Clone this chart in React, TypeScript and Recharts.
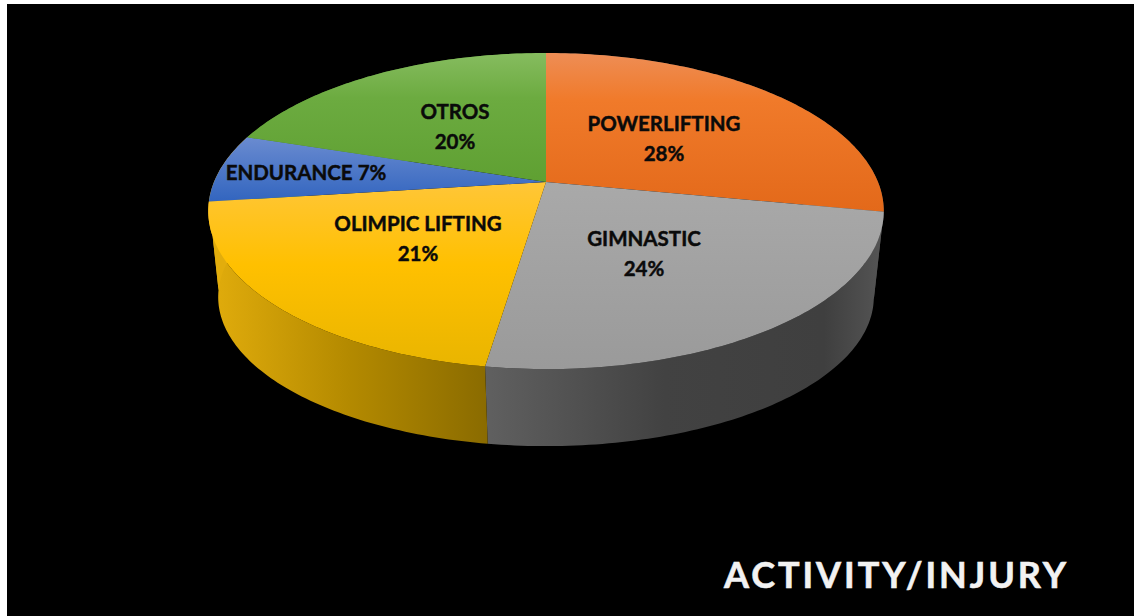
import React from 'react';
import { PieChart, Pie } from 'recharts';

const categories = ['POWERLIFTING', 'GIMNASTIC', 'OLIMPIC LIFTING', 'ENDURANCE', 'OTROS'];
const shares = [28, 24.4, 20.6, 7, 20];

const topIds = ['topOrange', 'topGray', 'topYellow', 'topBlue', 'topGreen'];
const wallIds = ['wallOrange', 'wallGray', 'wallYellow', 'wallBlue', 'wallGreen'];

const data = categories.map((name, i) => ({ name, value: shares[i] }));

const WIDTH = 1134;
const HEIGHT = 616;
const CX = 546;
const CY = 182;
const RADIUS = 332;

// two planes of the tilted disc, top face and bottom face
const TOP_PLANE = { rx: 1, ry: 0.46, dy: 0, p: 0.1837 };
const BOTTOM_PLANE = { rx: 0.973, ry: 0.436, dy: 89.7, p: 0.17 };

type Plane = typeof TOP_PLANE;

// recharts angle (degrees, counter clockwise from 3 o'clock) to a point on the tilted disc
const project = (cx: number, cy: number, r: number, angle: number, plane: Plane, t = 1) => {
  const a = (angle * Math.PI) / 180;
  const u = Math.cos(a) * t;
  const v = -Math.sin(a) * t;
  const w = 1 - plane.p * v;
  return [cx + (r * plane.rx * u) / w, cy + plane.dy + (r * plane.ry * v) / w];
};

const arcPoints = (cx: number, cy: number, r: number, start: number, end: number, plane: Plane) => {
  const steps = Math.max(2, Math.ceil(Math.abs(end - start)));
  const pts: number[][] = [];
  for (let i = 0; i <= steps; i++) {
    pts.push(project(cx, cy, r, start + ((end - start) * i) / steps, plane));
  }
  return pts;
};

const toPath = (pts: number[][]) =>
  pts.map((p, i) => `${i === 0 ? 'M' : 'L'}${p[0].toFixed(2)},${p[1].toFixed(2)}`).join(' ') + ' Z';

const TopSector = (props: any) => {
  const { cx, cy, outerRadius, startAngle, endAngle, index } = props;
  const pts = [[cx, cy], ...arcPoints(cx, cy, outerRadius, startAngle, endAngle, TOP_PLANE)];
  return <path d={toPath(pts)} fill={`url(#${topIds[index]})`} />;
};

const WallSector = (props: any) => {
  const { cx, cy, outerRadius, startAngle, endAngle, index } = props;
  const upper = arcPoints(cx, cy, outerRadius, startAngle, endAngle, TOP_PLANE);
  const lower = arcPoints(cx, cy, outerRadius, startAngle, endAngle, BOTTOM_PLANE).reverse();
  return <path d={toPath([...upper, ...lower])} fill={`url(#${wallIds[index]})`} />;
};

const labelPlaces = [
  { x: 664, y: 131, oneLine: false },
  { x: 644, y: 246, oneLine: false },
  { x: 418, y: 231, oneLine: false },
  { x: 306, y: 180, oneLine: true },
  { x: 455, y: 119, oneLine: false },
];

const renderLabel = (props: any) => {
  const { index, name, percent } = props;
  const place = labelPlaces[index];
  const pct = `${Math.round(percent * 100)}%`;
  const textProps = {
    x: place.x,
    textAnchor: 'middle' as const,
    fill: '#0a0a0a',
    stroke: '#0a0a0a',
    strokeWidth: 0.45,
    fontFamily: 'Lato',
    fontWeight: 700,
    fontSize: 20.5,
  };
  if (place.oneLine) {
    return (
      <text {...textProps} y={place.y}>
        {name} {pct}
      </text>
    );
  }
  return (
    <g>
      <text {...textProps} y={place.y}>{name}</text>
      <text {...textProps} y={place.y + 30}>{pct}</text>
    </g>
  );
};

const vertical = (id: string, stops: [string, string][]) => (
  <linearGradient id={id} x1="0" y1="0" x2="0" y2="1" key={id}>
    {stops.map(([o, c]) => <stop key={o} offset={o} stopColor={c} />)}
  </linearGradient>
);

const horizontal = (id: string, stops: [string, string][]) => (
  <linearGradient id={id} x1="0" y1="0" x2="1" y2="0" key={id}>
    {stops.map(([o, c]) => <stop key={o} offset={o} stopColor={c} />)}
  </linearGradient>
);

export default function App() {
  return (
    <div style={{ position: 'absolute', left: 0, top: 0, width: WIDTH, height: HEIGHT, background: '#fff', overflow: 'hidden' }}>
      <div style={{ position: 'absolute', left: 7, top: 4, right: 0, bottom: 0, background: '#000' }} />
      <div style={{ position: 'absolute', left: 0, top: 0 }}>
        <PieChart width={WIDTH} height={HEIGHT} margin={{ top: 0, right: 0, bottom: 0, left: 0 }}>
          <defs>
            {vertical('topOrange', [['0', '#ee8d55'], ['0.3', '#f07a2a'], ['1', '#e3691a']])}
            {vertical('topGray', [['0', '#a9a9a9'], ['1', '#9a9a9a']])}
            {vertical('topYellow', [['0', '#ffc638'], ['0.45', '#ffc000'], ['1', '#e9b500']])}
            {vertical('topBlue', [['0', '#6a8bd0'], ['1', '#3265bf']])}
            {vertical('topGreen', [['0', '#86bc5f'], ['0.35', '#6cab40'], ['1', '#5fa032']])}
            {horizontal('wallOrange', [['0', '#4a4a4a'], ['1', '#4a4a4a']])}
            {horizontal('wallGray', [['0', '#606060'], ['0.45', '#424242'], ['0.85', '#3f3f3f'], ['1', '#555555']])}
            {horizontal('wallYellow', [['0', '#e2ad0c'], ['0.5', '#b48a00'], ['1', '#8a6b00']])}
            {horizontal('wallBlue', [['0', '#e2ad0c'], ['1', '#e2ad0c']])}
            {horizontal('wallGreen', [['0', '#47782a'], ['1', '#47782a']])}
          </defs>
          <Pie
            data={data}
            dataKey="value"
            nameKey="name"
            cx={CX}
            cy={CY}
            outerRadius={RADIUS}
            startAngle={90}
            endAngle={-270}
            stroke="none"
            shape={WallSector}
            isAnimationActive={false}
          />
          <Pie
            data={data}
            dataKey="value"
            nameKey="name"
            cx={CX}
            cy={CY}
            outerRadius={RADIUS}
            startAngle={90}
            endAngle={-270}
            stroke="none"
            shape={TopSector}
            label={renderLabel}
            labelLine={false}
            isAnimationActive={false}
          />
          <text x={724} y={588} fill="#f2f2f2" stroke="#f2f2f2" strokeWidth={0.6} fontFamily="Lato" fontWeight={700} fontSize={36} letterSpacing={2.95}>
            ACTIVITY/INJURY
          </text>
        </PieChart>
      </div>
    </div>
  );
}
